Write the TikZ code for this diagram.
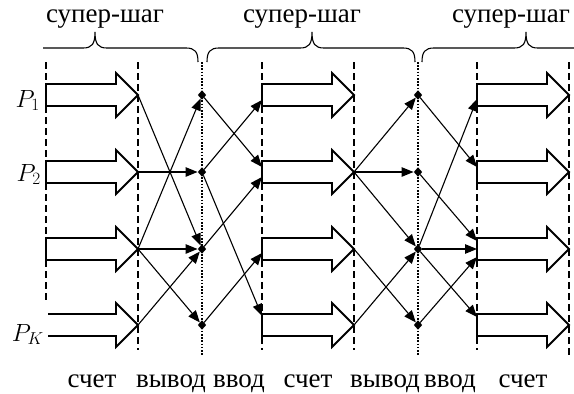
\documentclass[tikz,border=0pt]{standalone}
\usepackage{fontspec}
\setmainfont{Liberation Serif}
\usetikzlibrary{arrows.meta,shapes.geometric}
\begin{document}
\begin{tikzpicture}[x=1pt,y=-1pt,
  txt/.style={font=\fontsize{27}{30}\selectfont, inner sep=0pt},
  blk/.style={line width=1.8pt, line join=miter},
  grid/.style={line width=1.7pt, dash pattern=on 7pt off 4pt},
  dots/.style={line width=1.7pt, dash pattern=on 1.6pt off 1.6pt},
  link/.style={line width=1.1pt, -{Triangle[length=12pt,width=9.5pt]}},
  dia/.style={diamond, fill=black, inner sep=0pt, minimum width=8.5pt, minimum height=9.5pt},
  brace/.style={line width=1.1pt}
]
\useasboundingbox (0,0) rectangle (574,394);

% named points
\foreach \r/\y in {1/95,2/172,3/249,4/325} {
  \coordinate (Lt\r) at (46,\y);  \coordinate (Lh\r) at (138,\y);
  \coordinate (Mt\r) at (262,\y); \coordinate (Mh\r) at (354,\y);
  \coordinate (Rt\r) at (477,\y); \coordinate (Rh\r) at (569,\y);
}
% phase boundaries
\coordinate (g1a) at (46,62);  \coordinate (g1b) at (46,357);
\coordinate (g2a) at (138,62); \coordinate (g2b) at (138,350);
\coordinate (g3a) at (262,62); \coordinate (g3b) at (262,350);
\coordinate (g4a) at (354,62); \coordinate (g4b) at (354,350);
\coordinate (g5a) at (477,62); \coordinate (g5b) at (477,350);
\coordinate (g6a) at (569,62); \coordinate (g6b) at (569,357);
\coordinate (d1a) at (202,62); \coordinate (d1b) at (202,355);
\coordinate (d2a) at (418,62); \coordinate (d2b) at (418,355);

\foreach \a in {1,...,6} \draw[grid] (g\a a) -- (g\a b);
\draw[dots] (d1a) -- (d1b);
\draw[dots] (d2a) -- (d2b);

% block arrows (compute)
\foreach \c in {L,M,R} \foreach \r in {1,2,3,4} {
  \draw[blk] (\c t\r) ++(0,-11) -- ++(70,0) -- ++(0,-11) -- ++(22,22)
    -- ++(-22,22) -- ++(0,-11) -- ++(-70,0) -- cycle;
}

% exchange points
\foreach \r/\y in {1/95,2/172,3/249,4/325} {
  \node[dia] (A\r) at (202,\y) {};
  \node[dia] (B\r) at (418,\y) {};
}

% first exchange
\draw[link] (Lh1) -- (A3);
\draw[link] (Lh2) -- (A2);
\draw[link] (Lh3) -- (A1);
\draw[link] (Lh3) -- (A3);
\draw[link] (Lh3) -- (A4);
\draw[link] (Lh4) -- (A3);
\draw[link] (A1) -- ([yshift=5pt]Mt2);
\draw[link] (A2) -- ([yshift=-5pt]Mt1);
\draw[link] (A2) -- ([yshift=9pt]Mt4);
\draw[link] (A3) -- ([yshift=-5pt]Mt2);
\draw[link] (A4) -- ([yshift=-4pt]Mt3);

% second exchange
\draw[link] (Mh2) -- (B1);
\draw[link] (Mh2) -- (B2);
\draw[link] (Mh2) -- (B3);
\draw[link] (Mh3) -- (B4);
\draw[link] (Mh4) -- (B3);
\draw[link] (B1) -- ([yshift=5pt]Rt2);
\draw[link] (B2) -- ([yshift=8pt]Rt3);
\draw[link] (B3) -- ([yshift=-4pt]Rt1);
\draw[link] (B3) -- (Rt3);
\draw[link] (B3) -- ([yshift=8pt]Rt4);
\draw[link] (B4) -- ([yshift=-8pt]Rt3);

% braces
\draw[brace] (43,48) -- (83,48) .. controls (92,48) and (95,44) .. (95,32)
  .. controls (95,44) and (98,48) .. (107,48) -- (186,48)
  .. controls (195,48) and (198,52) .. (198,62);
\draw[brace] (207,62) .. controls (207,52) and (210,48) .. (219,48) -- (300,48)
  .. controls (309,48) and (312,44) .. (312,32)
  .. controls (312,44) and (315,48) .. (324,48) -- (403,48)
  .. controls (412,48) and (415,52) .. (415,62);
\draw[brace] (422,62) .. controls (422,52) and (425,48) .. (434,48) -- (514,48)
  .. controls (523,48) and (526,44) .. (526,32)
  .. controls (526,44) and (529,48) .. (538,48) -- (576,48);

% labels
\node[txt, anchor=base] (s1) at (105,22) {супер-шаг};
\node[txt, anchor=base] (s2) at (302,22) {супер-шаг};
\node[txt, anchor=base] (s3) at (511,22) {супер-шаг};

\node[txt, anchor=base] (c1) at (92,387) {счет};
\node[txt, anchor=base] (v1) at (171,387) {вывод};
\node[txt, anchor=base] (i1) at (239,387) {ввод};
\node[txt, anchor=base] (c2) at (308,387) {счет};
\node[txt, anchor=base] (v2) at (385,387) {вывод};
\node[txt, anchor=base] (i2) at (450,387) {ввод};
\node[txt, anchor=base] (c3) at (523,387) {счет};

\node[txt, anchor=base east] (p1) at (40,107) {$P_1$};
\node[txt, anchor=base east] (p2) at (41,181) {$P_2$};
\node[txt, anchor=base east, fill=white, inner xsep=4pt, inner ysep=24pt] (pk) at (48,341) {$P_K$};
\end{tikzpicture}
\end{document}
